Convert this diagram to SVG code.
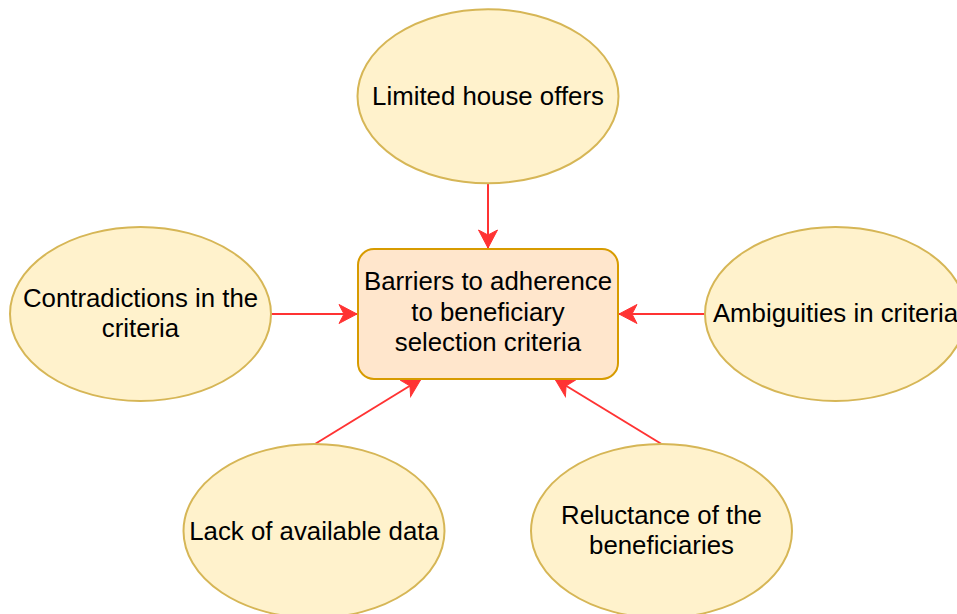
<svg xmlns="http://www.w3.org/2000/svg" width="957" height="614" viewBox="0 0 957 614">
<style>
.el{fill:#fff2cc;stroke:#d6b656;stroke-width:2}
.box{fill:#ffe6cc;stroke:#d79b00;stroke-width:2}
.t{font-family:"Liberation Sans",Arial,Helvetica,sans-serif;font-size:25.8px;fill:#000;text-anchor:middle}
.c{stroke:#ff3333;stroke-width:2;fill:none;marker-end:url(#ah)}
</style>
<defs>
<marker id="ah" markerUnits="userSpaceOnUse" markerWidth="22" markerHeight="22" viewBox="-1 -11 22 22" refX="18" refY="0" orient="auto">
<path d="M0,-9.5 L18,0 L0,9.5 L5,0 Z" fill="#ff3333" stroke="#ff3333" stroke-width="1"/>
</marker>
</defs>
<rect width="957" height="614" fill="#ffffff"/>
<g id="connectors">
<line class="c" x1="488" y1="183" x2="488" y2="248"/>
<line class="c" x1="271" y1="314" x2="357" y2="314"/>
<line class="c" x1="705" y1="314" x2="619" y2="314"/>
<line class="c" x1="315" y1="444" x2="421" y2="379"/>
<line class="c" x1="661.5" y1="444" x2="555" y2="379"/>
</g>
<g id="center">
<rect class="box" x="358" y="249" width="260" height="130" rx="16" ry="16"/>
<text class="t" x="488" y="290">Barriers to adherence</text>
<text class="t" x="488" y="320.5">to beneficiary</text>
<text class="t" x="488" y="351">selection criteria</text>
</g>
<g id="limited">
<ellipse class="el" cx="488" cy="96.3" rx="130.5" ry="87"/>
<text class="t" x="488" y="105">Limited house offers</text>
</g>
<g id="contradictions">
<ellipse class="el" cx="140.5" cy="314" rx="130.5" ry="87"/>
<text class="t" x="140.5" y="306.5">Contradictions in the</text>
<text class="t" x="140.5" y="337">criteria</text>
</g>
<g id="ambiguities">
<ellipse class="el" cx="835.5" cy="314" rx="130.5" ry="87"/>
<text class="t" x="835.5" y="322">Ambiguities in criteria</text>
</g>
<g id="lack">
<ellipse class="el" cx="314" cy="531" rx="130.5" ry="87"/>
<text class="t" x="314" y="539.5">Lack of available data</text>
</g>
<g id="reluctance">
<ellipse class="el" cx="661.5" cy="531" rx="130.5" ry="87"/>
<text class="t" x="661.5" y="523.5">Reluctance of the</text>
<text class="t" x="661.5" y="554">beneficiaries</text>
</g>
</svg>
